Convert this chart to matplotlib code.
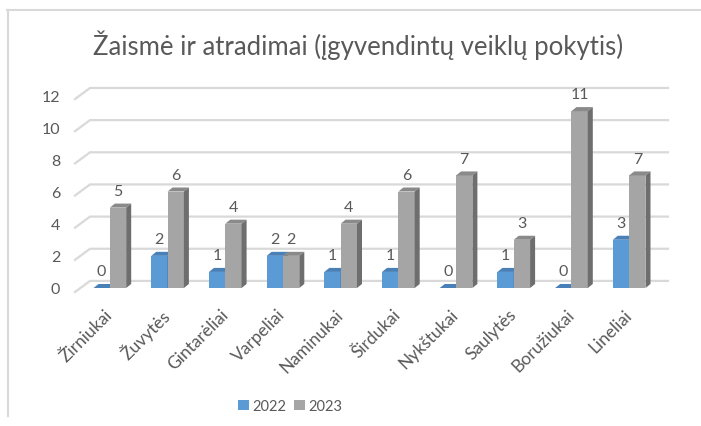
import matplotlib.pyplot as plt
from matplotlib.patches import Polygon, Rectangle
from matplotlib.lines import Line2D

plt.rcParams['font.family'] = ['Lato', 'DejaVu Sans']

groups = ['Žirniukai', 'Žuvytės', 'Gintarėliai', 'Varpeliai', 'Naminukai',
          'Širdukai', 'Nykštukai', 'Saulytės', 'Boružiukai', 'Lineliai']
v2022 = [0, 2, 1, 2, 1, 1, 0, 1, 0, 3]
v2023 = [5, 6, 4, 2, 4, 6, 7, 3, 11, 7]
yticks = [0, 2, 4, 6, 8, 10, 12]

# colours of the fake 3d faces: front, top, side
blue = ('#5b9bd5', '#4a80b8', '#41719c')
gray = ('#a5a5a5', '#8a8a8a', '#6e6e6e')
txt = '#595959'

fig = plt.figure(figsize=(7.01, 4.27), dpi=100)
ax = fig.add_axes([81/701, 138/427, 577/701, 201/427])
ax.set_xlim(-0.5, len(groups) - 0.5)
ax.set_ylim(0, 12.5)
for s in ax.spines.values():
    s.set_visible(False)

# back wall gridlines with a small perspective slant on the left
for v in yticks:
    ax.plot([-0.604, -0.344, 9.673], [v - 0.25, v + 0.44, v + 0.44],
            color='#d9d9d9', lw=1.6, clip_on=False, zorder=0)

w = 0.283
dx, dy = 0.087, 0.25


def bar3d(x0, h, cols):
    front, top, side = cols
    ax.add_patch(Rectangle((x0, 0), w, h, fc=front, ec='none', zorder=3))
    ax.add_patch(Polygon([(x0, h), (x0 + w, h), (x0 + w + dx, h + dy), (x0 + dx, h + dy)],
                         fc=top, ec='none', zorder=3, clip_on=False))
    ax.add_patch(Polygon([(x0 + w, 0), (x0 + w + dx, dy), (x0 + w + dx, h + dy), (x0 + w, h)],
                         fc=side, ec='none', zorder=3, clip_on=False))


for i in range(len(groups)):
    bar3d(i - w, v2022[i], blue)
    bar3d(i, v2023[i], gray)
    ax.annotate(str(v2022[i]), (i - w/2, v2022[i]), xytext=(0, 12), textcoords='offset points',
                ha='center', va='center', fontsize=11.5, color=txt)
    ax.annotate(str(v2023[i]), (i + w/2, v2023[i]), xytext=(0, 12), textcoords='offset points',
                ha='center', va='center', fontsize=11.5, color=txt)

ax.set_yticks(yticks)
ax.set_yticklabels([str(t) for t in yticks], fontsize=11.5, color=txt)
ax.tick_params(axis='y', length=0, pad=15)
ax.set_xticks(range(len(groups)))
ax.set_xticklabels(groups, rotation=45, ha='right', va='center', rotation_mode='anchor',
                   fontsize=12.5, color=txt)
ax.tick_params(axis='x', length=0, pad=17)

fig.text(358/701, 1 - 45/427, 'Žaismė ir atradimai (įgyvendintų veiklų pokytis)',
         ha='center', va='center', fontsize=18.5, color=txt)

handles = [Rectangle((0, 0), 1, 1, fc=blue[0]), Rectangle((0, 0), 1, 1, fc=gray[0])]
fig.legend(handles, ['2022', '2023'], loc='center', bbox_to_anchor=(290/701, 1 - 407/427),
           ncol=2, frameon=False, fontsize=10.5, labelcolor=txt, handlelength=0.75,
           handleheight=0.75, handletextpad=0.25, columnspacing=0.5)

# chart area border (top and left only visible)
fig.add_artist(Line2D([7/701, 1], [1 - 11/427, 1 - 11/427], color='#d9d9d9', lw=1.5))
fig.add_artist(Line2D([8/701, 8/701], [1 - 11/427, 1 - 417/427], color='#d9d9d9', lw=1.5))

fig.savefig('out.png', dpi=100)
